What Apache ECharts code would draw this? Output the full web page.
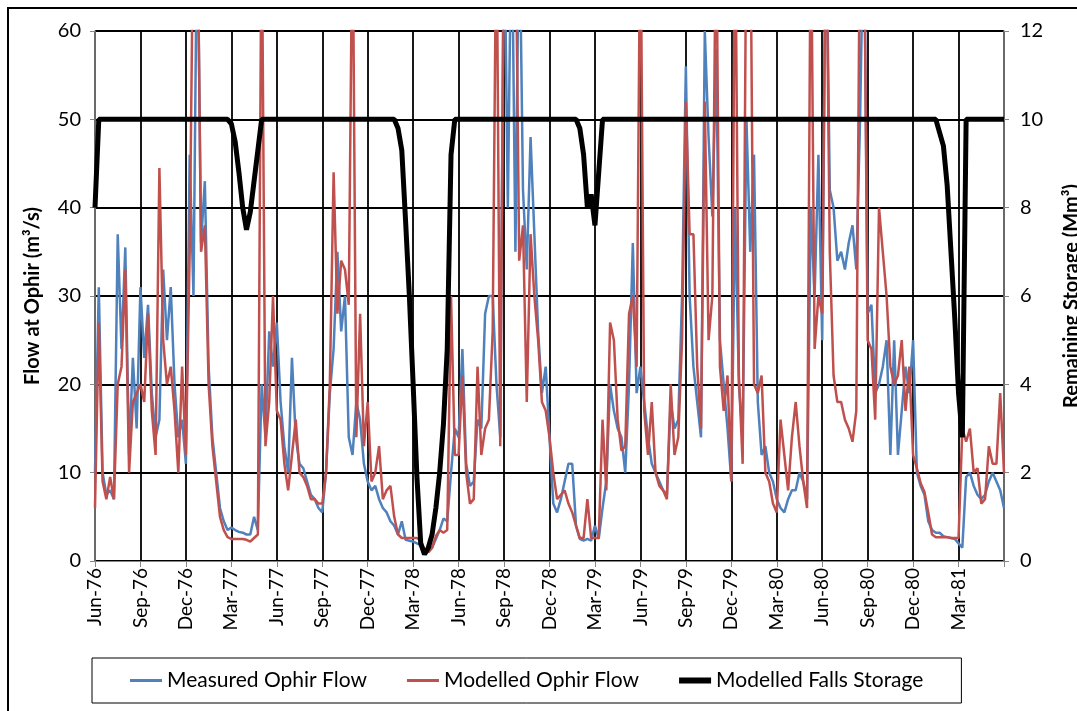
<!DOCTYPE html>
<html>
<head>
<meta charset="utf-8">
<script src="https://cdn.jsdelivr.net/npm/echarts@6/dist/echarts.min.js"></script>
<style>
  html, body { margin: 0; padding: 0; background: #fff; }
  #chart { width: 1077px; height: 711px; }
</style>
</head>
<body>
<div id="chart"></div>
<script>
// one sample roughly every week, 4 per month, Jun-76 .. Jun-81
var monthNames = ['Jan', 'Feb', 'Mar', 'Apr', 'May', 'Jun', 'Jul', 'Aug', 'Sep', 'Oct', 'Nov', 'Dec'];
var sampleDays = [1, 8, 16, 23];
var categories = [];
for (var m = 0; m < 60; m++) {
    var mon = (5 + m) % 12;
    var yr = 76 + Math.floor((5 + m) / 12);
    for (var d = 0; d < sampleDays.length; d++) {
        categories.push(monthNames[mon] + '-' + yr + '|' + sampleDays[d]);
    }
}
categories.push('Jun-81|1');

var measuredFlow = [
    10, 31, 10, 7.5, 8, 7, 37, 24, 35.5, 12, 23, 15, 31,
    23, 29, 19, 14, 16, 33, 25, 31, 20, 14, 16, 11,
    46, 30, 75, 36, 43, 22, 14, 10, 6, 4.5, 3.5, 3.8,
    3.5, 3.3, 3.2, 3.0, 3.0, 5.0, 3.5, 20, 14, 26, 22, 27,
    18, 13, 10, 23, 14, 11, 10.5, 9, 7.5, 7, 6, 5.5,
    10, 19, 24, 35, 26, 30, 14, 12, 18, 16, 11, 9,
    8, 8.5, 7, 6, 5.5, 4.5, 4, 3, 4.5, 2.4, 2.3, 2.2,
    2.0, 1.8, 1.2, 1.0, 1.5, 2.5, 3.5, 4.8, 4.5, 10, 15, 14,
    24, 11, 8.5, 9, 16, 15, 28, 30, 30, 20, 14, 75,
    40, 75, 35, 75, 42, 33, 48, 37, 26, 19, 22, 14,
    6.5, 5.5, 7, 9, 11, 11, 4, 2.5, 2.3, 2.5, 2.3, 4,
    2.5, 6, 9, 20, 17, 15, 14, 10, 20, 36, 19, 22,
    18, 14, 11, 10, 9, 8, 7.5, 18, 15, 16, 30, 56,
    30, 22, 18, 14, 60, 48, 39, 58, 25, 20, 15, 9,
    40, 20, 14, 50, 35, 46, 18, 12, 13, 10, 9, 7,
    6, 5.5, 7, 8, 8, 10, 9, 7, 40, 30, 46, 25,
    75, 42, 40, 34, 35, 33, 36, 38, 33, 50, 75, 28,
    29, 19, 20, 22, 25, 12, 25, 12, 17, 22, 19, 25,
    10, 8.5, 7.5, 4.5, 3.5, 3.2, 3.2, 2.8, 2.7, 2.6, 2.5, 2.0,
    1.5, 9.5, 10, 8.5, 7.5, 7, 7.5, 9, 10, 9, 8, 6
];

var modelledFlow = [
    6, 27, 9, 7, 9.5, 7, 20, 22, 33, 10, 18, 19, 20,
    18, 28, 17, 12, 44.5, 25, 20, 22, 17, 10, 22, 12,
    35, 75, 75, 35, 38, 20, 13, 9, 5, 3.5, 2.7, 2.5,
    2.5, 2.5, 2.5, 2.4, 2.2, 2.6, 3.0, 75, 13, 18, 30, 17,
    16, 11, 8, 12, 16, 10, 9.5, 8.5, 7, 7, 6.5, 6.5,
    10, 20, 44, 28, 34, 33, 29, 75, 14, 28, 13, 18,
    9, 10, 13, 7, 8, 8.5, 5, 3, 2.6, 2.6, 2.6, 2.6,
    2.6, 2.3, 1.3, 1.0, 1.5, 2.8, 3.5, 3.2, 3.5, 30, 12, 12,
    21, 10, 6.5, 7, 22, 12, 15, 16, 26, 75, 13, 75,
    75, 75, 75, 34, 38, 18, 37, 30, 25, 18, 17, 14,
    10, 7, 7.5, 8, 6.5, 5.5, 4, 2.6, 2.6, 7, 2.6, 2.6,
    2.6, 16, 8, 27, 25, 16, 12.5, 13, 28, 30, 22, 75,
    17, 12, 18, 10, 8.5, 8, 7, 20, 12, 14, 25, 52,
    37, 37, 22, 15, 52, 25, 30, 75, 22, 17, 21, 9,
    75, 21, 11, 75, 75, 20, 19, 21, 10, 9, 6.5, 5.5,
    16, 12, 8, 14, 18, 13, 9, 6, 75, 24, 30, 28,
    75, 35, 21, 18, 18, 16, 15, 13.5, 17, 75, 75, 25,
    24, 16, 40, 35, 30, 22, 20, 21, 25, 17, 22, 12,
    10.5, 8.8, 7.8, 5.5, 3.0, 2.7, 2.7, 2.7, 2.7, 2.6, 2.6, 2.6,
    15, 13.5, 15, 10, 10.5, 6.5, 7, 13, 11, 11, 19, 10
];

var fallsStorage = [
    8, 10, 10, 10, 10, 10, 10, 10, 10, 10, 10, 10,
    10, 10, 10, 10, 10, 10, 10, 10, 10, 10, 10, 10,
    10, 10, 10, 10, 10, 10, 10, 10, 10, 10, 10, 10,
    9.9, 9.5, 8.8, 8.0, 7.5, 7.9, 8.6, 9.3, 10, 10, 10, 10,
    10, 10, 10, 10, 10, 10, 10, 10, 10, 10, 10, 10,
    10, 10, 10, 10, 10, 10, 10, 10, 10, 10, 10, 10,
    10, 10, 10, 10, 10, 10, 10, 10, 9.8, 9.3, 7.7, 6.0,
    4.0, 1.9, 0.4, 0.15, 0.3, 0.6, 1.2, 2.0, 3.1, 4.8, 9.2, 10,
    10, 10, 10, 10, 10, 10, 10, 10, 10, 10, 10, 10,
    10, 10, 10, 10, 10, 10, 10, 10, 10, 10, 10, 10,
    10, 10, 10, 10, 10, 10, 10, 10, 9.8, 9.2, 8.0, 8.3,
    7.6, 8.8, 10, 10, 10, 10, 10, 10, 10, 10, 10, 10,
    10, 10, 10, 10, 10, 10, 10, 10, 10, 10, 10, 10,
    10, 10, 10, 10, 10, 10, 10, 10, 10, 10, 10, 10,
    10, 10, 10, 10, 10, 10, 10, 10, 10, 10, 10, 10,
    10, 10, 10, 10, 10, 10, 10, 10, 10, 10, 10, 10,
    10, 10, 10, 10, 10, 10, 10, 10, 10, 10, 10, 10,
    10, 10, 10, 10, 10, 10, 10, 10, 10, 10, 10, 10,
    10, 10, 10, 10, 10, 10, 10, 9.7, 9.4, 8.5, 7.0, 5.5,
    3.8, 2.8, 10, 10, 10, 10, 10, 10, 10, 10, 10, 10, 10
];

var flowTicks = [0, 60, 10];
var storageTicks = [0, 12, 2];

var dom = document.getElementById('chart');
var chart = echarts.init(dom, null, { renderer: 'canvas' });

var font = 'Lato, "Open Sans", sans-serif';
var axisGrey = '#868686';

var option = {
    animation: false,
    textStyle: { fontFamily: font, color: '#000' },
    graphic: [
        {
            type: 'rect',
            shape: { x: 8, y: 8, width: 1100, height: 760 },
            style: { fill: 'none', stroke: '#000', lineWidth: 2 }
        }
    ],
    grid: { left: 95, right: 73, top: 31, bottom: 150, outerBoundsMode: 'none', containLabel: false },
    legend: {
        left: 92,
        top: 658,
        padding: [12, 38, 12, 38],
        itemGap: 40,
        itemWidth: 32,
        itemHeight: 14,
        borderColor: '#000',
        borderWidth: 1,
        textStyle: { fontSize: 21, fontFamily: font, color: '#000' },
        data: [
            { name: 'Measured Ophir Flow', icon: 'path://M0,0h32v3h-32z', itemStyle: { color: '#4F81BD' } },
            { name: 'Modelled Ophir Flow', icon: 'path://M0,0h32v3h-32z', itemStyle: { color: '#C0504D' } },
            { name: 'Modelled Falls Storage', icon: 'path://M0,0h32v6h-32z', itemStyle: { color: '#000' } }
        ]
    },
    xAxis: {
        type: 'category',
        data: categories,
        boundaryGap: false,
        axisLine: { lineStyle: { color: axisGrey, width: 1 } },
        axisTick: { interval: 11, length: 6, lineStyle: { color: axisGrey } },
        axisLabel: {
            interval: function (index) { return index % 12 === 0 && index < 240; },
            rotate: 90,
            margin: 7,
            fontSize: 19,
            color: '#000',
            fontFamily: font,
            formatter: function (value) { return value.split('|')[0]; }
        },
        splitLine: { show: true, interval: 11, lineStyle: { color: '#000', width: 1.8 } }
    },
    yAxis: [
        {
            type: 'value',
            min: flowTicks[0],
            max: flowTicks[1],
            interval: flowTicks[2],
            name: 'Flow at Ophir (m³/s)',
            nameLocation: 'middle',
            nameRotate: 90,
            nameGap: 52,
            nameTextStyle: { fontSize: 20, fontWeight: 'bold', fontFamily: font, color: '#000' },
            axisLine: { show: true, lineStyle: { color: axisGrey, width: 1.5 } },
            axisTick: { show: true, length: 5, lineStyle: { color: axisGrey } },
            axisLabel: { margin: 14, fontSize: 20, color: '#000', fontFamily: font },
            splitLine: { show: true, lineStyle: { color: '#000', width: 1.8 } }
        },
        {
            type: 'value',
            min: storageTicks[0],
            max: storageTicks[1],
            interval: storageTicks[2],
            position: 'right',
            name: 'Remaining Storage (Mm³)',
            nameLocation: 'middle',
            nameRotate: 90,
            nameGap: 58,
            nameTextStyle: { fontSize: 20, fontWeight: 'bold', fontFamily: font, color: '#000' },
            axisLine: { show: true, lineStyle: { color: axisGrey, width: 1.5 } },
            axisTick: { show: true, length: 5, lineStyle: { color: axisGrey } },
            axisLabel: { margin: 16, fontSize: 20, color: '#000', fontFamily: font },
            splitLine: { show: false }
        }
    ],
    series: [
        {
            name: 'Measured Ophir Flow',
            type: 'line',
            yAxisIndex: 0,
            data: measuredFlow,
            symbol: 'none',
            clip: true,
            lineStyle: { color: '#4F81BD', width: 2.5 },
            itemStyle: { color: '#4F81BD' }
        },
        {
            name: 'Modelled Ophir Flow',
            type: 'line',
            yAxisIndex: 0,
            data: modelledFlow,
            symbol: 'none',
            clip: true,
            lineStyle: { color: '#C0504D', width: 2.5 },
            itemStyle: { color: '#C0504D' }
        },
        {
            name: 'Modelled Falls Storage',
            type: 'line',
            yAxisIndex: 1,
            data: fallsStorage,
            symbol: 'none',
            clip: true,
            lineStyle: { color: '#000', width: 5 },
            itemStyle: { color: '#000' }
        }
    ]
};

chart.setOption(option);
window.addEventListener('resize', chart.resize);
</script>
</body>
</html>
